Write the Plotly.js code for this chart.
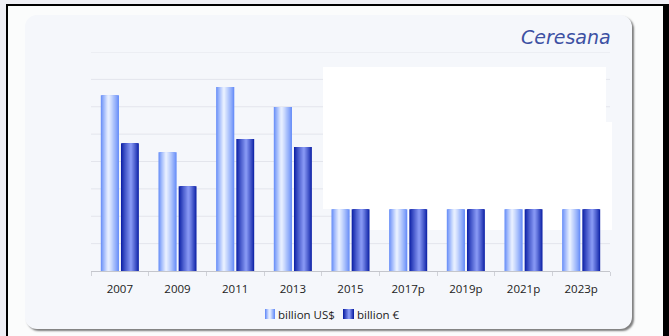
<!DOCTYPE html>
<html>
<head>
<meta charset="utf-8">
<script src="https://cdn.plot.ly/plotly-3.0.1.min.js"></script>
<style>
  html, body { margin:0; padding:0; width:669px; height:336px; overflow:hidden; background:#efeff5; }
  #frame { position:absolute; left:6px; top:4px; right:0; bottom:-20px; background:#fbfcfc;
           border-left:2px solid #000; border-top:2px solid #000; border-right:6px solid #000; }
  #panel { position:absolute; left:25px; top:15px; width:607px; height:314px; border-radius:12px;
           background:#f5f7fb; box-shadow:2px 2px 2px rgba(0,0,0,0.5); }
  #chart { position:absolute; left:0; top:0; width:669px; height:336px; }
</style>
</head>
<body>
<div id="frame"></div>
<div id="panel"></div>
<div id="chart"></div>
<script>
// ---- data ----
const categories = ['2007', '2009', '2011', '2013', '2015', '2017p', '2019p', '2021p', '2023p'];
const usdValues = [6.42, 4.34, 6.72, 5.99, 2.26, 2.26, 2.26, 2.26, 2.26];
const eurValues = [4.67, 3.10, 4.82, 4.53, 2.26, 2.26, 2.26, 2.26, 2.26];
const seriesNames = ['billion US$', 'billion €'];
const gridValues = [1, 2, 3, 4, 5, 6, 7, 8];

// ---- styling helpers ----
const USD_EDGE = '#6a90f8', USD_PEAK = '#e6eeff', EUR_EDGE = '#1024a8', EUR_PEAK = '#8596f2';
function hexToRgb(h) { h = h.replace('#', ''); return [0, 2, 4].map(i => parseInt(h.substr(i, 2), 16)); }
function mix(c1, c2, t) {
  const a = hexToRgb(c1), b = hexToRgb(c2);
  return 'rgb(' + a.map((v, i) => Math.round(v + (b[i] - v) * t)).join(',') + ')';
}
// cylinder-like gradient: nested bars narrowing toward a highlight line
function gradientTraces(name, values, left, right, hiFrac, edge, peak, levels) {
  const w = right - left, c = left + w * hiFrac, a = c - left, b = right - c;
  const traces = [];
  for (let k = 0; k < levels; k++) {
    const f = 1 - k / levels;
    const t = Math.pow(k / (levels - 1), 0.9);
    traces.push({
      type: 'bar', x: categories, y: values, name: name, showlegend: false,
      offset: c - a * f, width: (a + b) * f,
      marker: { color: k === 0 ? edge : mix(edge, peak, t), line: { width: 0 } },
      hoverinfo: k === 0 ? 'x+y+name' : 'skip'
    });
  }
  return traces;
}

const traces = []
  .concat(gradientTraces(seriesNames[0], usdValues, -0.33, -0.015, 0.42, USD_EDGE, USD_PEAK, 9))
  .concat(gradientTraces(seriesNames[1], eurValues, 0.02, 0.33, 0.55, EUR_EDGE, EUR_PEAK, 9));

const L = 91, R = 610, T = 52, B = 271;
function px(x) { return (x - L) / (R - L); }
function py(y) { return (B - y) / (B - T); }

// gridlines (drawn as shapes so the white masks can cover them, bars stay on top)
const shapes = gridValues.map(v => ({
  type: 'line', xref: 'paper', yref: 'y', x0: 0, x1: 1, y0: v, y1: v,
  line: { color: '#e3e5ec', width: 1 }, layer: 'below'
}));
shapes.push(
  { type: 'rect', xref: 'paper', yref: 'paper', x0: px(323), x1: px(606), y0: py(209), y1: py(67),
    fillcolor: '#ffffff', line: { width: 0 }, layer: 'below' },
  { type: 'rect', xref: 'paper', yref: 'paper', x0: px(351), x1: px(612), y0: py(230), y1: py(122),
    fillcolor: '#ffffff', line: { width: 0 }, layer: 'below' }
);
// legend icons (small gradient squares)
function iconShapes(x0, x1, y0, y1, hiFrac, edge, peak, levels) {
  const c = x0 + (x1 - x0) * hiFrac, a = c - x0, b = x1 - c, out = [];
  for (let k = 0; k < levels; k++) {
    const f = 1 - k / levels, t = k / (levels - 1);
    out.push({ type: 'rect', xref: 'paper', yref: 'paper',
      x0: px(c - a * f), x1: px(c + b * f), y0: py(y1), y1: py(y0),
      fillcolor: k === 0 ? edge : mix(edge, peak, t), line: { width: 0 }, layer: 'above' });
  }
  return out;
}
shapes.push(...iconShapes(265, 275, 309, 319, 0.45, USD_EDGE, USD_PEAK, 5));
shapes.push(...iconShapes(343, 354, 309, 319, 0.55, EUR_EDGE, EUR_PEAK, 5));

const layout = {
  width: 669, height: 336,
  margin: { l: L, r: 669 - R, t: T, b: 336 - B, pad: 0 },
  paper_bgcolor: 'rgba(0,0,0,0)', plot_bgcolor: 'rgba(0,0,0,0)',
  barmode: 'overlay', showlegend: false,
  font: { family: 'Open Sans, Noto Sans, sans-serif', size: 11, color: '#222' },
  xaxis: {
    type: 'category', showgrid: false, showline: true, linecolor: '#c4c6cc', linewidth: 1,
    ticks: 'outside', tickson: 'boundaries', ticklen: 4, tickcolor: '#d0d2d8',
    ticklabelstandoff: 7, tickfont: { size: 11.5, color: '#222' }, fixedrange: true
  },
  yaxis: {
    range: [0, 8], showticklabels: false, showgrid: false, zeroline: false, showline: false, fixedrange: true
  },
  shapes: shapes,
  annotations: [
    { text: 'Ceresana', xref: 'paper', yref: 'paper', x: px(613), y: py(37), xanchor: 'right', yanchor: 'middle',
      showarrow: false, font: { family: 'DejaVu Sans, sans-serif', size: 19, color: '#3d51a3', style: 'italic' } },
    { text: seriesNames[0], xref: 'paper', yref: 'paper', x: px(276), y: py(314), xanchor: 'left', yanchor: 'middle',
      showarrow: false, font: { size: 11.5, color: '#222' } },
    { text: seriesNames[1], xref: 'paper', yref: 'paper', x: px(355), y: py(314), xanchor: 'left', yanchor: 'middle',
      showarrow: false, font: { size: 11.5, color: '#222' } }
  ]
};

Plotly.newPlot('chart', traces, layout, { displayModeBar: false, staticPlot: true });
</script>
</body>
</html>
